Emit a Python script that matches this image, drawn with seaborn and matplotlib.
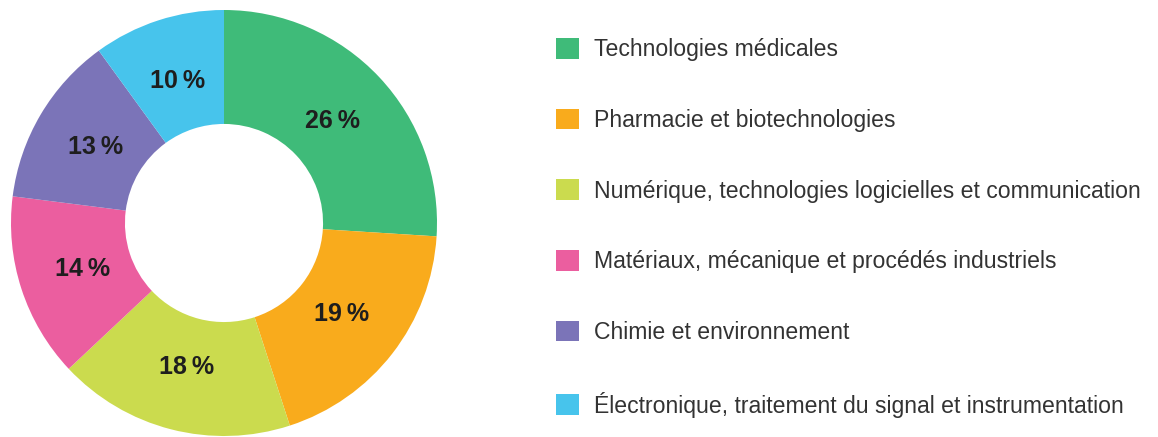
import seaborn as sns
import matplotlib.pyplot as plt

# Data
categories = [
    "Technologies médicales",
    "Pharmacie et biotechnologies",
    "Numérique, technologies logicielles et communication",
    "Matériaux, mécanique et procédés industriels",
    "Chimie et environnement",
    "Électronique, traitement du signal et instrumentation",
]
shares = [26, 19, 18, 14, 13, 10]
colors = ["#3fbb79", "#f9ab1c", "#cbdb4e", "#eb5e9f", "#7b74b8", "#47c4ec"]

sns.set_theme(style="white")
plt.rcParams['font.family'] = ['Liberation Sans', 'DejaVu Sans']

fig = plt.figure(figsize=(11.58, 4.37), dpi=100)
ax = fig.add_axes([11 / 1158, 1 / 437, 426 / 1158, 426 / 437])

wedges, texts, autotexts = ax.pie(
    shares, colors=colors, startangle=90, counterclock=False,
    radius=1, autopct=lambda p: f"{p:.0f}\u2009%", pctdistance=0.70,
    wedgeprops=dict(width=0.535, edgecolor="none"),
    textprops=dict(fontsize=18, fontweight="bold", color="#1e1e1e"),
)
ax.set_xlim(-1, 1)
ax.set_ylim(-1, 1)
ax.set_aspect("equal")
ax.axis("off")

# Legend on the right, one square per sector
leg = fig.legend(
    wedges, categories, loc="upper left", bbox_to_anchor=(556 / 1158, 1 - 38 / 437),
    frameon=False, fontsize=16.6, handlelength=1.0, handleheight=1.0,
    handletextpad=0.65, labelspacing=2.06, borderpad=0, borderaxespad=0,
)
for t in leg.get_texts():
    t.set_color("#333333")

fig.savefig("out.png", dpi=100)
